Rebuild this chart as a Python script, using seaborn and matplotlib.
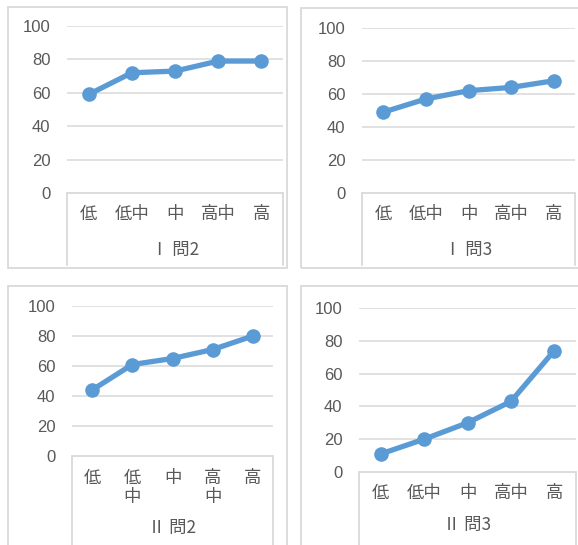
import matplotlib
matplotlib.use("Agg")
import matplotlib.pyplot as plt
from matplotlib.patches import Rectangle
from matplotlib.lines import Line2D
import seaborn as sns
import pandas as pd

sns.set_theme(style="white")
plt.rcParams["font.family"] = ["Liberation Sans", "Noto Sans CJK JP", "DejaVu Sans"]

categories = ["低", "低中", "中", "高中", "高"]
titles = ["Ⅰ 問2", "Ⅰ 問3", "Ⅱ 問2", "Ⅱ 問3"]
values_i_q2 = [59, 72, 73, 79, 79]
values_i_q3 = [49, 57, 62, 64, 68]
values_ii_q2 = [44, 61, 65, 71, 80]
values_ii_q3 = [11, 20, 30, 43, 74]
y_ticks = [0, 20, 40, 60, 80, 100]

W, H = 578, 545
LINE = "#5B9BD5"
GRID = "#D9D9D9"
TEXT = "#595959"
CJK = ["Noto Sans CJK JP", "DejaVu Sans"]

fig = plt.figure(figsize=(W / 100, H / 100), dpi=100)
fig.patch.set_facecolor("white")

# panel layout in pixels: frame box, plot area, category box bottom, label rows
panels = [
    dict(vals=values_i_q2, title=titles[0], frame=(8, 7, 287, 268),
         plot=(67, 26, 283, 193), box_bottom=265, cat_y=214, title_y=250, wrap=False),
    dict(vals=values_i_q3, title=titles[1], frame=(301, 8, 580, 268),
         plot=(362, 28, 575, 193), box_bottom=265, cat_y=214, title_y=250, wrap=False),
    dict(vals=values_ii_q2, title=titles[2], frame=(8, 286, 287, 560),
         plot=(72, 306, 273, 456), box_bottom=560, cat_y=478, title_y=528, wrap=True),
    dict(vals=values_ii_q3, title=titles[3], frame=(301, 286, 580, 560),
         plot=(359, 308, 576, 472), box_bottom=560, cat_y=493, title_y=525, wrap=False),
]

for p in panels:
    fx0, fy0, fx1, fy1 = p["frame"]
    fig.patches.append(Rectangle((fx0 / W, 1 - fy1 / H), (fx1 - fx0) / W, (fy1 - fy0) / H,
                                 transform=fig.transFigure, fill=False,
                                 edgecolor=GRID, linewidth=1.3, zorder=0))

    x0, y0, x1, y1 = p["plot"]
    ax = fig.add_axes([x0 / W, 1 - y1 / H, (x1 - x0) / W, (y1 - y0) / H])
    df = pd.DataFrame({"level": categories, "score": p["vals"]})
    sns.lineplot(data=df, x="level", y="score", ax=ax, color=LINE, linewidth=3.8,
                 marker="o", markersize=10.5, markeredgewidth=0, sort=False, zorder=3)
    ax.set_xlim(-0.5, 4.5)
    ax.set_ylim(0, 100)
    ax.set_yticks(y_ticks)
    ax.set_yticklabels([str(t) for t in y_ticks], color=TEXT, fontsize=12,
                       family="Liberation Sans")
    ax.tick_params(axis="y", length=0, pad=12)
    ax.set_xticks([])
    ax.set_xlabel("")
    ax.set_ylabel("")
    for s in ax.spines.values():
        s.set_visible(False)
    for t in y_ticks[1:]:
        ax.axhline(t, color=GRID, linewidth=1.1, zorder=1)

    # multi-level category axis box drawn below the plot area
    py = lambda v: (y1 - v) / (y1 - y0)
    ax.add_line(Line2D([0, 1], [0, 0], transform=ax.transAxes, color=GRID,
                       linewidth=1.3, clip_on=False, zorder=1))
    for xx in (0, 1):
        ax.add_line(Line2D([xx, xx], [0, py(p["box_bottom"])], transform=ax.transAxes,
                           color=GRID, linewidth=1.3, clip_on=False, zorder=1))
    for i, c in enumerate(categories):
        rows = list(c) if p["wrap"] else [c]
        for k, r in enumerate(rows):
            ax.text((i + 0.5) / 5, py(p["cat_y"] + 19 * k), r, transform=ax.transAxes,
                    ha="center", va="center", fontsize=12.5, color=TEXT, family=CJK)
    ax.text(0.5, py(p["title_y"]), p["title"], transform=ax.transAxes,
            ha="center", va="center", fontsize=12.5, color=TEXT, family=CJK)

fig.savefig("out.png", dpi=100, facecolor="white")
